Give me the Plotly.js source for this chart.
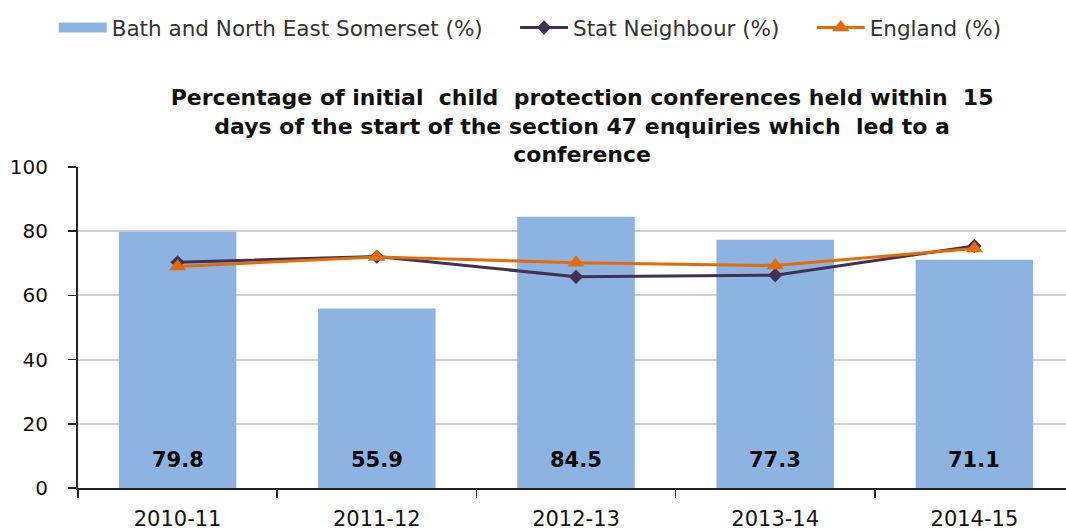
<!DOCTYPE html>
<html><head><meta charset="utf-8">
<script src="https://cdn.plot.ly/plotly-3.0.1.min.js"></script>
<style>html,body{margin:0;padding:0;overflow:hidden;background:#fff}#chart{width:1074px;height:531px}</style>
</head><body><div id="chart"></div>
<script>
const categories = ["2010-11","2011-12","2012-13","2013-14","2014-15"];
const bathValues = [79.8, 55.9, 84.5, 77.3, 71.1];
const statNeighbour = [70.3, 72.1, 65.8, 66.3, 75.4];
const england = [69.0, 72.0, 70.2, 69.3, 74.6];
const tickVals = [0,20,40,60,80,100];
const seriesNames = ['Bath and North East Somerset (%)', 'Stat Neighbour (%)', 'England (%)'];

const F = "'DejaVu Sans', Verdana, sans-serif";
const BAR = '#8db3e2';
const PAD = '\u00a0\u00a0\u00a0\u00a0';
const traces = [
  {type:'bar', x:categories, y:bathValues, name:seriesNames[0],
   marker:{color:BAR}, showlegend:false},
  {type:'scatter', mode:'lines', x:[null], y:[null], name:seriesNames[0] + PAD,
   line:{color:BAR, width:16}, hoverinfo:'skip'},
  {type:'scatter', mode:'lines+markers', x:categories, y:statNeighbour, name:seriesNames[1] + PAD,
   line:{color:'#403152', width:3}, marker:{symbol:'diamond', size:11, color:'#403152'}},
  {type:'scatter', mode:'lines+markers', x:categories, y:england, name:seriesNames[2],
   line:{color:'#e36c09', width:3}, marker:{symbol:'triangle-up', size:15, color:'#e36c09'}}
];
const annotations = categories.map((c,i)=>({
  x:c, y:0, xref:'x', yref:'y', text:bathValues[i].toFixed(1), showarrow:false,
  yanchor:'middle', yshift:28, font:{family:F, size:21, color:'#000', weight:'bold'}
}));
const layout = {
  width:1074, height:531,
  margin:{l:78, r:0, t:167, b:43},
  paper_bgcolor:'#fff', plot_bgcolor:'#fff',
  font:{family:F, size:19, color:'#222'},
  bargap:0.41,
  showlegend:true,
  annotations:annotations,
  legend:{orientation:'h', xref:'container', yref:'container', x:0.05, y:1-7/531, yanchor:'top', xanchor:'left',
    font:{family:F, size:21.5, color:'#333'}, itemwidth:48, tracegroupgap:0},
  title:{text:"Percentage of initial  child  protection conferences held within  15<br>days of the start of the section 47 enquiries which  led to a<br>conference",
    xref:'container', yref:'container', x:0.542, y:1-105/531, xanchor:'center', yanchor:'middle',
    font:{family:F, size:22, color:'#111', weight:'bold'}},
  xaxis:{type:'category', showline:true, linecolor:'#222', linewidth:2, ticks:'outside', tickson:'boundaries',
    ticklen:8, tickcolor:'#222', tickwidth:1.5, showgrid:false, tickfont:{family:F, size:21, color:'#111'},
    ticklabelstandoff:11, fixedrange:true},
  yaxis:{range:[0,100], tickvals:tickVals, showline:true, linecolor:'#222', linewidth:2, ticks:'outside', ticklen:8,
    tickcolor:'#222', tickwidth:1.5, showgrid:true, gridcolor:'#d0d0d0', gridwidth:2, zeroline:false,
    tickfont:{family:F, size:20, color:'#111'}, ticklabelstandoff:16, fixedrange:true}
};
Plotly.newPlot('chart', traces, layout, {displayModeBar:false, staticPlot:true});
</script></body></html>
